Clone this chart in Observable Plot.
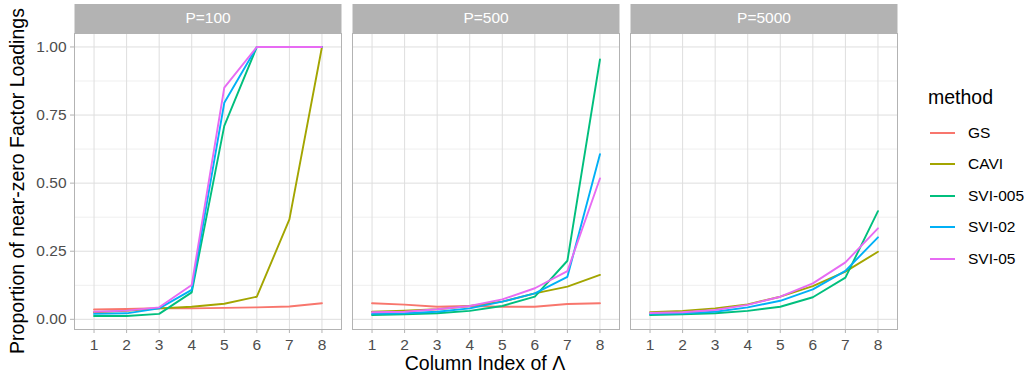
<!DOCTYPE html>
<html><head><meta charset="utf-8">
<script src="https://cdn.jsdelivr.net/npm/d3@7"></script>
<script src="https://cdn.jsdelivr.net/npm/@observablehq/plot@0.6"></script>
<style>
body{margin:0;background:#fff;font-family:"Liberation Sans",Arial,sans-serif;}
#wrap{position:relative;width:1031px;height:381px;overflow:hidden;}
#wrap svg{position:absolute;left:0;top:0;}
.ytitle{position:absolute;left:17px;top:181px;transform:translate(-50%,-50%) rotate(-90deg);font-size:19.5px;color:#000;white-space:nowrap;}
.xtitle{position:absolute;left:485px;top:363px;transform:translate(-50%,-50%);font-size:19.5px;color:#000;white-space:nowrap;}
.ltitle{position:absolute;left:928px;top:97px;transform:translateY(-50%);font-size:19.5px;color:#000;}
.litem{position:absolute;left:930px;height:20px;transform:translateY(-50%);font-size:15.5px;color:#000;white-space:nowrap;}
.litem .sw{position:absolute;left:0;top:9px;width:25px;height:2px;}
.litem .lb{position:absolute;left:38px;top:0;line-height:20px;}
</style></head><body><div id="wrap"></div>
<script>
const columns = [1, 2, 3, 4, 5, 6, 7, 8];
const panels = [100, 500, 5000];
const methods = ["GS", "CAVI", "SVI-005", "SVI-02", "SVI-05"];
const colors = ["#F8766D", "#A3A500", "#00BF7D", "#00B0F6", "#E76BF3"];
const yTicks = [0, 0.25, 0.5, 0.75, 1];
const yMinor = [0.125, 0.375, 0.625, 0.875];

// P = 100
const gs100     = [0.036, 0.038, 0.041, 0.040, 0.042, 0.044, 0.047, 0.059];
const cavi100   = [0.026, 0.031, 0.040, 0.046, 0.057, 0.083, 0.367, 1.000];
const svi005_100 = [0.012, 0.012, 0.020, 0.099, 0.710, 1.000, 1.000, 1.000];
const svi02_100  = [0.020, 0.022, 0.040, 0.108, 0.795, 1.000, 1.000, 1.000];
const svi05_100  = [0.028, 0.032, 0.044, 0.126, 0.851, 1.000, 1.000, 1.000];
// P = 500
const gs500     = [0.059, 0.054, 0.046, 0.049, 0.046, 0.046, 0.056, 0.059];
const cavi500   = [0.028, 0.032, 0.037, 0.049, 0.065, 0.095, 0.120, 0.163];
const svi005_500 = [0.016, 0.018, 0.022, 0.031, 0.049, 0.083, 0.215, 0.954];
const svi02_500  = [0.020, 0.022, 0.028, 0.040, 0.065, 0.095, 0.156, 0.606];
const svi05_500  = [0.026, 0.028, 0.037, 0.049, 0.073, 0.114, 0.177, 0.517];
// P = 5000 (no GS)
const gs5000     = null;
const cavi5000   = [0.026, 0.031, 0.040, 0.055, 0.083, 0.122, 0.175, 0.248];
const svi005_5000 = [0.016, 0.018, 0.022, 0.031, 0.046, 0.081, 0.153, 0.397];
const svi02_5000  = [0.020, 0.022, 0.028, 0.044, 0.068, 0.110, 0.178, 0.301];
const svi05_5000  = [0.023, 0.026, 0.034, 0.053, 0.083, 0.132, 0.209, 0.334];

const series = {
  100: [gs100, cavi100, svi005_100, svi02_100, svi05_100],
  500: [gs500, cavi500, svi005_500, svi02_500, svi05_500],
  5000: [gs5000, cavi5000, svi005_5000, svi02_5000, svi05_5000]
};
const table = [];
for (const P of panels) {
  series[P].forEach((vals, mi) => {
    if (!vals) return;
    vals.forEach((v, i) => table.push({P, method: methods[mi], col: columns[i], value: v}));
  });
}
const vmin = d3.min(table, d => d.value), vmax = d3.max(table, d => d.value);
const pad = (vmax - vmin) * 0.05;

const plot = Plot.plot({
  width: 1031, height: 381,
  marginLeft: 73, marginRight: 134, marginTop: 33, marginBottom: 52,
  style: {fontFamily: '"Liberation Sans", Arial, sans-serif', background: "transparent"},
  fx: {domain: panels, paddingInner: 0.04, paddingOuter: 0, axis: null, label: null},
  x: {domain: [0.4, 8.6]},
  y: {domain: [vmin - pad, vmax + pad]},
  color: {domain: methods, range: colors},
  marks: [
    Plot.frame({fill: "#B3B3B3", insetTop: -29.5, insetBottom: 296}),
    Plot.ruleY(yMinor, {stroke: "#EFEFEF", strokeWidth: 1}),
    Plot.ruleY(yTicks, {stroke: "#DEDEDE", strokeWidth: 1}),
    Plot.ruleX(columns, {stroke: "#DEDEDE", strokeWidth: 1}),
    Plot.line(table, {fx: "P", x: "col", y: "value", z: "method", stroke: "method", strokeWidth: 1.9}),
    Plot.frame({stroke: "#B3B3B3", strokeWidth: 1}),
    Plot.text(panels, {fx: d => d, text: d => "P=" + d, frameAnchor: "top", lineAnchor: "middle", dy: -15, fill: "white", fontSize: 15.5}),
    Plot.axisY(yTicks, {tickFormat: d3.format(".2f"), tickSize: 4, tickPadding: 4, fontSize: 15.5, fill: "#4D4D4D", stroke: "#B3B3B3", label: null}),
    Plot.axisX(columns, {tickFormat: d => String(d), tickSize: 4, tickPadding: 5, fontSize: 15.5, fill: "#4D4D4D", stroke: "#B3B3B3", label: null})
  ]
});
const wrap = document.getElementById("wrap");
wrap.appendChild(plot);

const yt = document.createElement("div"); yt.className = "ytitle"; yt.textContent = "Proportion of near-zero Factor Loadings"; wrap.appendChild(yt);
const xt = document.createElement("div"); xt.className = "xtitle"; xt.textContent = "Column Index of Λ"; wrap.appendChild(xt);
const lt = document.createElement("div"); lt.className = "ltitle"; lt.textContent = "method"; wrap.appendChild(lt);
const legendY = [132.5, 164, 195.5, 227, 258.5];
methods.forEach((m, i) => {
  const it = document.createElement("div"); it.className = "litem"; it.style.top = legendY[i] + "px";
  const sw = document.createElement("div"); sw.className = "sw"; sw.style.background = colors[i];
  const lb = document.createElement("div"); lb.className = "lb"; lb.textContent = m;
  it.appendChild(sw); it.appendChild(lb); wrap.appendChild(it);
});
</script></body></html>
